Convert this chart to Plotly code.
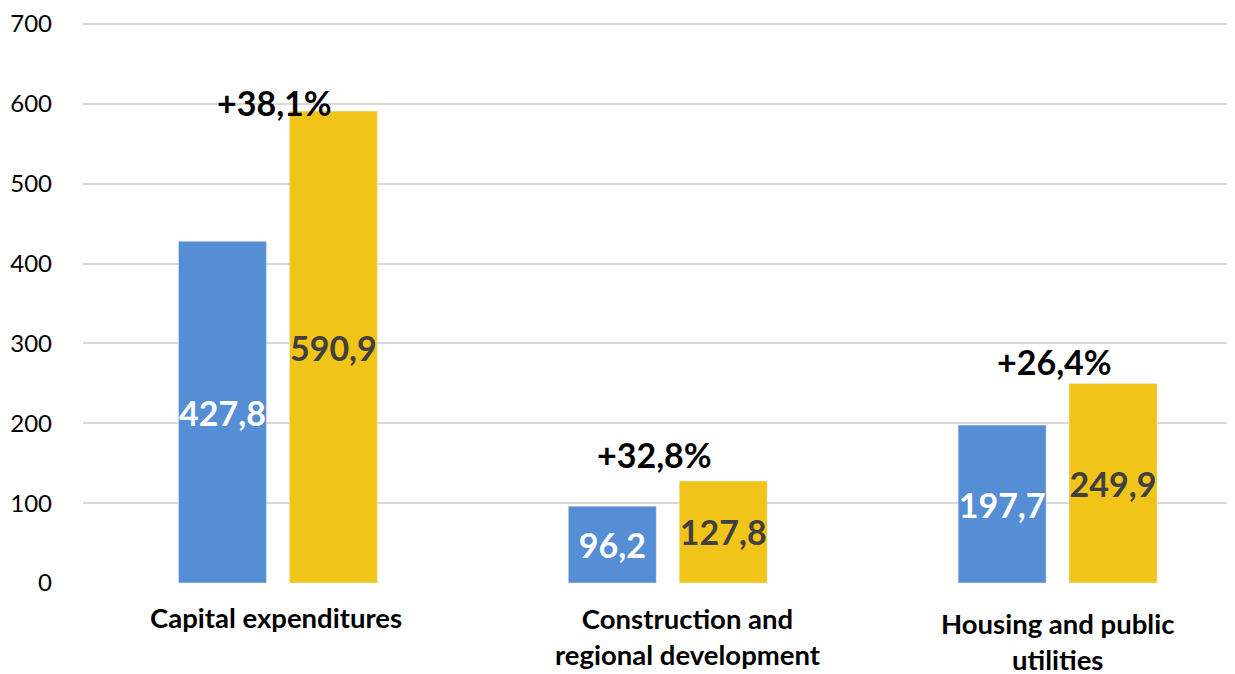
import plotly.graph_objects as go

categories = ["Capital expenditures", "Construction and regional development", "Housing and public utilities"]
category_labels = ["Capital expenditures", "Construction and<br>regional development", "Housing and public<br>utilities"]
series_prev = [427.8, 96.2, 197.7]
series_curr = [590.9, 127.8, 249.9]
growth_labels = ["+38,1%", "+32,8%", "+26,4%"]
y_ticks = [0, 100, 200, 300, 400, 500, 600, 700]

def fmt(v):
    return f"{v:.1f}".replace(".", ",")

FONT = "Lato"
fig = go.Figure()
fig.add_trace(go.Bar(
    x=categories, y=series_prev, marker_color="#558ED5",
    text=[fmt(v) for v in series_prev], textposition="inside",
    insidetextanchor="middle", textangle=0, constraintext="none",
    textfont=dict(family=FONT, size=34, color="white", weight="bold"),
    cliponaxis=False,
))
fig.add_trace(go.Bar(
    x=categories, y=series_curr, marker_color="#F0C419",
    text=[fmt(v) for v in series_curr], textposition="inside",
    insidetextanchor="middle", textangle=0, constraintext="none",
    textfont=dict(family=FONT, size=34, color="#404040", weight="bold"),
    cliponaxis=False,
))

pct_xshift = [-3, -13, -3]
pct_yshift = [-14, 4, -1]
for i, (c, v, g) in enumerate(zip(categories, series_curr, growth_labels)):
    fig.add_annotation(x=c, y=v, text=f"<b>{g}</b>", showarrow=False,
                       xshift=pct_xshift[i], yshift=pct_yshift[i], yanchor="bottom",
                       font=dict(family=FONT, size=34, color="black"))

lab_xshift = [-2, 20, 0]
lab_yshift = [-16, -17, -22]
for i, (c, lab) in enumerate(zip(categories, category_labels)):
    fig.add_annotation(x=c, y=0, xref="x", yref="paper", text=f"<b>{lab}</b>",
                       showarrow=False, xanchor="center", yanchor="top",
                       xshift=lab_xshift[i], yshift=lab_yshift[i],
                       font=dict(family=FONT, size=27.5, color="black"))

fig.update_layout(
    width=1235, height=674,
    margin=dict(l=75, r=10, t=8, b=99),
    plot_bgcolor="white", paper_bgcolor="white",
    barmode="group", bargap=0.431, bargroupgap=0.207,
    showlegend=False,
    font=dict(family=FONT),
)
fig.update_xaxes(
    range=[-0.5, 2.45], showgrid=False, showline=False, zeroline=False,
    showticklabels=False, ticks="", automargin=False,
)
fig.update_yaxes(
    range=[0, 710], tickvals=y_ticks, showgrid=True, gridcolor="#D9D9D9",
    gridwidth=1.5, zeroline=False, showline=False,
    tickfont=dict(family=FONT, size=24, color="black"),
    ticks="", ticklabelstandoff=30, automargin=False,
)
fig.write_html("out.html")
